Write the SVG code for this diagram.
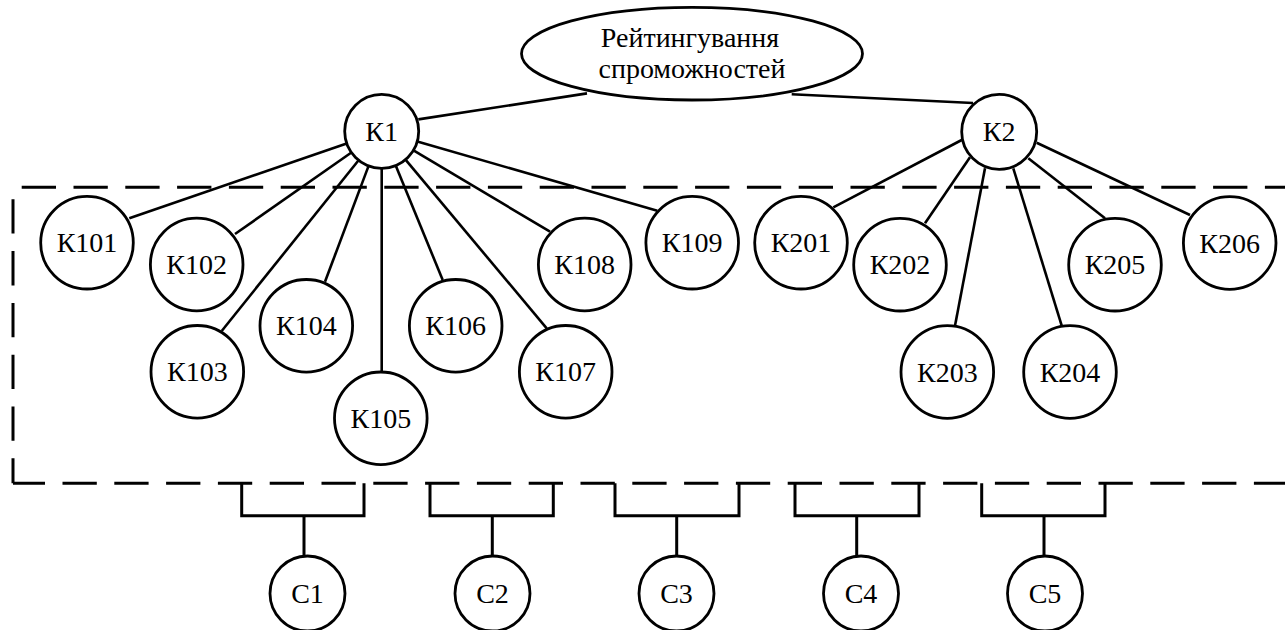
<svg xmlns="http://www.w3.org/2000/svg" width="1285" height="630" viewBox="0 0 1285 630">
<style>
  .bg { fill: #ffffff; }
  .node { fill: #ffffff; stroke: #000000; stroke-width: 2.8; }
  .lbl { font-family: "Liberation Serif", "Times New Roman", serif; font-size: 28px; fill: #000000; text-anchor: middle; }
  .edge { stroke: #000000; stroke-width: 2.6; fill: none; }
  .dash { stroke: #000000; stroke-width: 3; fill: none; stroke-dasharray: 34.3 17.5; }
  .bracket { stroke: #000000; stroke-width: 3; fill: none; }
</style>
<rect class="bg" x="0" y="0" width="1285" height="630"/>

<g id="boundary">
  <line class="dash" x1="13" y1="483.3" x2="13" y2="192" stroke-dashoffset="9.3"/>
  <line class="dash" x1="21.7" y1="187.3" x2="1290" y2="187.3"/>
  <line class="dash" x1="13" y1="483.3" x2="1290" y2="483.3" stroke-dashoffset="2.3"/>
</g>

<g id="connectors">
  <line class="edge" x1="418.3" y1="119.4" x2="587" y2="93.4"/>
  <line class="edge" x1="791.7" y1="94.3" x2="973" y2="103"/>
  <line class="edge" x1="346.7" y1="143.4" x2="129.3" y2="218.3"/>
  <line class="edge" x1="351.4" y1="152.5" x2="235" y2="234"/>
  <line class="edge" x1="358.6" y1="160.2" x2="221.7" y2="331"/>
  <line class="edge" x1="368.6" y1="165.9" x2="325" y2="281.7"/>
  <line class="edge" x1="381.7" y1="168.3" x2="381.7" y2="372"/>
  <line class="edge" x1="395.7" y1="165.5" x2="442.7" y2="280"/>
  <line class="edge" x1="405.5" y1="159.7" x2="546.7" y2="328.3"/>
  <line class="edge" x1="413.5" y1="150.3" x2="550" y2="231.7"/>
  <line class="edge" x1="417.3" y1="141.5" x2="657.3" y2="210.7"/>
  <line class="edge" x1="961.7" y1="140" x2="833.3" y2="207.3"/>
  <line class="edge" x1="970" y1="157.3" x2="925" y2="223.3"/>
  <line class="edge" x1="985" y1="168.3" x2="955" y2="325.7"/>
  <line class="edge" x1="1013.3" y1="168.3" x2="1061.7" y2="325.7"/>
  <line class="edge" x1="1028.3" y1="158.3" x2="1105" y2="218.3"/>
  <line class="edge" x1="1036.7" y1="142.7" x2="1190" y2="215"/>
  <path class="bracket" d="M241.7,483.3 V515.7 H364 V483.3 M304,515.7 V556"/>
  <path class="bracket" d="M430,483.3 V515.7 H553.3 V483.3 M492.3,515.7 V556"/>
  <path class="bracket" d="M615,483.3 V515.7 H739 V483.3 M676.7,515.7 V556"/>
  <path class="bracket" d="M795,483.3 V515.7 H919 V483.3 M856.7,515.7 V556"/>
  <path class="bracket" d="M981.7,483.3 V515.7 H1105 V483.3 M1044,515.7 V556"/>
</g>

<g id="root">
  <ellipse class="node" cx="692" cy="53.7" rx="170.5" ry="46.3"/>
  <text class="lbl" x="690" y="46.5">Рейтингування</text>
  <text class="lbl" x="692" y="77.5">спроможностей</text>
</g>

<g id="K1"><circle class="node" cx="381.7" cy="131.3" r="37"/><text class="lbl" x="381.7" y="140.8">К1</text></g>
<g id="K2"><circle class="node" cx="999.2" cy="131.8" r="37.5"/><text class="lbl" x="999.2" y="141.3">К2</text></g>

<g id="K101"><circle class="node" cx="87" cy="242.7" r="46.3"/><text class="lbl" x="87" y="252.2">К101</text></g>
<g id="K102"><circle class="node" cx="196.7" cy="264.5" r="46.3"/><text class="lbl" x="196.7" y="274">К102</text></g>
<g id="K103"><circle class="node" cx="197.3" cy="371.8" r="46.3"/><text class="lbl" x="197.3" y="381.3">К103</text></g>
<g id="K104"><circle class="node" cx="306.3" cy="325.8" r="46.3"/><text class="lbl" x="306.3" y="335.3">К104</text></g>
<g id="K105"><circle class="node" cx="380.8" cy="418.3" r="46.3"/><text class="lbl" x="380.8" y="427.8">К105</text></g>
<g id="K106"><circle class="node" cx="455.7" cy="325.8" r="46.3"/><text class="lbl" x="455.7" y="335.3">К106</text></g>
<g id="K107"><circle class="node" cx="565.7" cy="371.8" r="46.3"/><text class="lbl" x="565.7" y="381.3">К107</text></g>
<g id="K108"><circle class="node" cx="584.7" cy="264.5" r="46.3"/><text class="lbl" x="584.7" y="274">К108</text></g>
<g id="K109"><circle class="node" cx="692.2" cy="242.7" r="46.3"/><text class="lbl" x="692.2" y="252.2">К109</text></g>

<g id="K201"><circle class="node" cx="801" cy="242.7" r="46.3"/><text class="lbl" x="801" y="252.2">К201</text></g>
<g id="K202"><circle class="node" cx="900" cy="264.7" r="46.3"/><text class="lbl" x="900" y="274.2">К202</text></g>
<g id="K203"><circle class="node" cx="947.3" cy="372" r="46.3"/><text class="lbl" x="947.3" y="381.5">К203</text></g>
<g id="K204"><circle class="node" cx="1070" cy="372" r="46.3"/><text class="lbl" x="1070" y="381.5">К204</text></g>
<g id="K205"><circle class="node" cx="1115" cy="264.7" r="46.3"/><text class="lbl" x="1115" y="274.2">К205</text></g>
<g id="K206"><circle class="node" cx="1229.7" cy="243" r="46.3"/><text class="lbl" x="1229.7" y="252.5">К206</text></g>

<g id="C1"><circle class="node" cx="307.5" cy="593.5" r="37.5"/><text class="lbl" x="307.5" y="603">С1</text></g>
<g id="C2"><circle class="node" cx="492.5" cy="593.5" r="37.5"/><text class="lbl" x="492.5" y="603">С2</text></g>
<g id="C3"><circle class="node" cx="676.5" cy="593.5" r="37.5"/><text class="lbl" x="676.5" y="603">С3</text></g>
<g id="C4"><circle class="node" cx="861" cy="593.5" r="37.5"/><text class="lbl" x="861" y="603">С4</text></g>
<g id="C5"><circle class="node" cx="1045" cy="593.5" r="37.5"/><text class="lbl" x="1045" y="603">С5</text></g>
</svg>
